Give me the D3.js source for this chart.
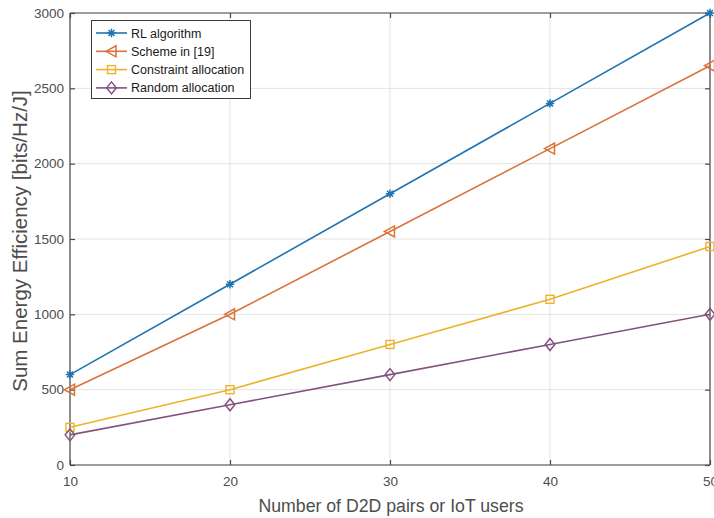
<!DOCTYPE html>
<html>
<head>
<meta charset="utf-8">
<script src="https://cdn.jsdelivr.net/npm/d3@7"></script>
<style>
  html, body { margin: 0; padding: 0; background: #fff; overflow: hidden; }
  svg { display: block; font-family: "Liberation Sans", Arial, Helvetica, sans-serif; }
</style>
</head>
<body>
<svg id="chart" width="714" height="518"></svg>
<script>
// Number of D2D pairs / IoT users on the x axis
const users = [10, 20, 30, 40, 50];

// Sum energy efficiency of each scheme [bits/Hz/J]
const rlAlgorithm = [600, 1200, 1800, 2400, 3000];
const schemeRef19 = [500, 1000, 1550, 2100, 2650];
const constraintAlloc = [250, 500, 800, 1100, 1450];
const randomAlloc = [200, 400, 600, 800, 1000];

const seriesNames = ["RL algorithm", "Scheme in [19]", "Constraint allocation", "Random allocation"];
const xTicks = [10, 20, 30, 40, 50];
const yTicks = [0, 500, 1000, 1500, 2000, 2500, 3000];

const seriesValues = [rlAlgorithm, schemeRef19, constraintAlloc, randomAlloc];
const colors = ["#1f74b2", "#d8733a", "#edb22c", "#84527f"];
const markers = ["asterisk", "triangleLeft", "square", "diamond"];

const svg = d3.select("#chart");
const plotLeft = 70, plotRight = 710, plotTop = 13, plotBottom = 465;

const x = d3.scaleLinear().domain([10, 50]).range([plotLeft, plotRight]);
const y = d3.scaleLinear().domain([0, 3000]).range([plotBottom, plotTop]);

const axisColor = "#4a4a4a";
const textColor = "#4d4d4d";

// grid
const grid = svg.append("g");
grid.selectAll("line.gx").data(xTicks).join("line")
  .attr("x1", d => x(d)).attr("x2", d => x(d))
  .attr("y1", plotTop).attr("y2", plotBottom)
  .attr("stroke", "#e3e3e3").attr("stroke-width", 1);
grid.selectAll("line.gy").data(yTicks).join("line")
  .attr("x1", plotLeft).attr("x2", plotRight)
  .attr("y1", d => y(d)).attr("y2", d => y(d))
  .attr("stroke", "#e3e3e3").attr("stroke-width", 1);

// axes (ticks point inward)
const xAxis = d3.axisBottom(x).tickValues(xTicks).tickSize(-5).tickPadding(11).tickFormat(d3.format("d"));
const yAxis = d3.axisLeft(y).tickValues(yTicks).tickSize(-5).tickPadding(6).tickFormat(d3.format("d"));
const xAxisTop = d3.axisTop(x).tickValues(xTicks).tickSize(-5).tickFormat("");
const yAxisRight = d3.axisRight(y).tickValues(yTicks).tickSize(-5).tickFormat("");

function styleAxis(g) {
  g.select(".domain").attr("stroke", axisColor).attr("stroke-width", 1.2);
  g.selectAll(".tick line").attr("stroke", axisColor).attr("stroke-width", 1.2);
  g.selectAll(".tick text").attr("fill", textColor).attr("font-size", 13.5)
    .attr("font-family", "\"Liberation Sans\", Arial, sans-serif");
}

svg.append("g").attr("transform", `translate(0,${plotBottom})`).call(xAxis).call(styleAxis)
  .call(g => g.select(".domain").attr("d", `M${plotLeft},0H${plotRight}`));
svg.append("g").attr("transform", `translate(${plotLeft},0)`).call(yAxis).call(styleAxis)
  .call(g => g.select(".domain").attr("d", `M0,${plotBottom}V${plotTop}`));
svg.append("g").attr("transform", `translate(0,${plotTop})`).call(xAxisTop).call(styleAxis)
  .call(g => g.select(".domain").attr("d", `M${plotLeft},0H${plotRight}`));
svg.append("g").attr("transform", `translate(${plotRight},0)`).call(yAxisRight).call(styleAxis)
  .call(g => g.select(".domain").attr("d", `M0,${plotBottom}V${plotTop}`));

// marker drawing
function drawMarker(g, type, color) {
  if (type === "asterisk") {
    const r = 4.2;
    const p = [];
    [0, 45, 90, 135].forEach(a => {
      const rad = a * Math.PI / 180;
      p.push(`M${-r * Math.cos(rad)},${-r * Math.sin(rad)}L${r * Math.cos(rad)},${r * Math.sin(rad)}`);
    });
    g.append("path").attr("d", p.join("")).attr("stroke", color).attr("stroke-width", 1.5).attr("fill", "none");
  } else if (type === "triangleLeft") {
    g.append("path").attr("d", "M-5.5,0L4.5,-5.5L4.5,5.5Z").attr("stroke", color).attr("stroke-width", 1.5).attr("fill", "none");
  } else if (type === "square") {
    g.append("rect").attr("x", -4).attr("y", -4).attr("width", 8).attr("height", 8)
      .attr("stroke", color).attr("stroke-width", 1.4).attr("fill", "none");
  } else if (type === "diamond") {
    g.append("path").attr("d", "M0,-6L4.8,0L0,6L-4.8,0Z").attr("stroke", color).attr("stroke-width", 1.5).attr("fill", "none");
  }
}

const line = d3.line().x(d => x(d.u)).y(d => y(d.v));
const plot = svg.append("g");
seriesValues.forEach((vals, i) => {
  const pts = users.map((u, j) => ({ u, v: vals[j] }));
  plot.append("path").datum(pts).attr("d", line)
    .attr("fill", "none").attr("stroke", colors[i]).attr("stroke-width", 1.6);
  pts.forEach(p => {
    const g = plot.append("g").attr("transform", `translate(${x(p.u)},${y(p.v)})`);
    drawMarker(g, markers[i], colors[i]);
  });
});

// legend
const lg = svg.append("g");
lg.append("rect").attr("x", 91.5).attr("y", 20.5).attr("width", 159).attr("height", 78)
  .attr("fill", "#fff").attr("stroke", "#3c3c3c").attr("stroke-width", 1);
seriesNames.forEach((name, i) => {
  const yy = 33 + i * 18.3;
  lg.append("line").attr("x1", 96).attr("x2", 127).attr("y1", yy).attr("y2", yy)
    .attr("stroke", colors[i]).attr("stroke-width", 1.6);
  const g = lg.append("g").attr("transform", `translate(111.5,${yy})`);
  drawMarker(g, markers[i], colors[i]);
  lg.append("text").attr("x", 131).attr("y", yy).attr("dy", "0.36em")
    .attr("font-size", 12.5).attr("fill", "#1a1a1a").text(name);
});

// axis titles
svg.append("text").attr("x", 391).attr("y", 512)
  .attr("text-anchor", "middle").attr("font-size", 17.7).attr("fill", textColor)
  .text("Number of D2D pairs or IoT users");
svg.append("text").attr("transform", `translate(27,241) rotate(-90)`)
  .attr("text-anchor", "middle").attr("font-size", 20.5).attr("fill", textColor)
  .text("Sum Energy Efficiency [bits/Hz/J]");
</script>
</body>
</html>
